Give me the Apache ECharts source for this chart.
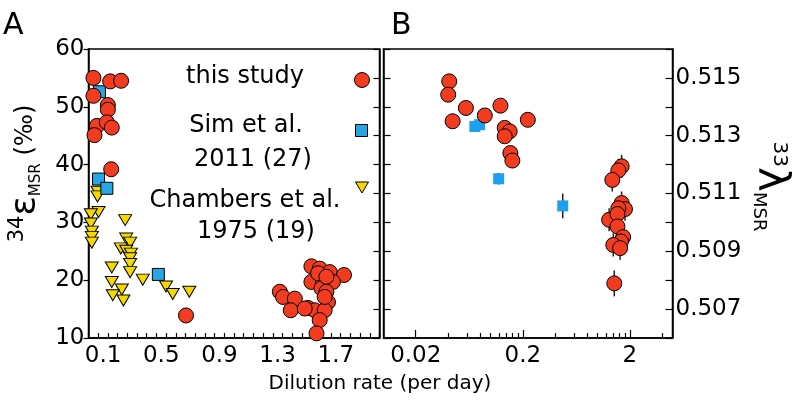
<!DOCTYPE html>
<html><head><meta charset="utf-8">
<script src="https://cdn.jsdelivr.net/npm/echarts@6/dist/echarts.min.js"></script>
<style>html,body{margin:0;padding:0;background:#fff}#c{width:796px;height:406px}</style>
</head><body><div id="c"></div>
<script>
// ---------- Panel A : 34ε_MSR vs dilution rate (linear) ----------
const studyA_x = [0.034,0.149,0.224,0.034,0.133,0.133,0.058,0.126,0.160,0.041,0.156,0.670,
  1.532,1.589,1.658,1.756,1.532,1.612,1.680,1.601,1.635,1.315,1.337,1.418,1.390,1.509,1.555,1.646,1.623,1.589,1.567,1.578,1.635,1.486,1.623];
const studyA_y = [55.0,54.4,54.5,51.9,50.3,49.5,46.7,47.3,46.4,45.1,39.2,13.9,
  22.4,22.0,21.4,20.9,19.7,19.7,19.7,18.6,18.0,18.0,17.1,16.8,14.8,15.2,14.8,16.2,14.8,13.1,10.8,21.2,20.6,15.1,17.1];
const simA_x = [0.075,0.069,0.126,0.480];
const simA_y = [52.6,37.5,35.9,21.0];
const chambersA_x = [0.062,0.062,0.069,0.016,0.016,0.023,0.023,0.023,0.252,0.259,0.286,0.222,0.259,0.291,0.286,0.286,0.286,0.160,0.160,0.229,0.167,0.240,0.373,0.533,0.579,0.693];
const chambersA_y = [35.3,34.5,31.8,31.4,29.8,28.4,27.5,26.5,30.4,27.2,26.5,25.5,25.1,24.6,23.8,22.8,21.4,22.2,19.7,18.4,17.4,16.5,20.1,18.9,17.6,18.0];

// ---------- Panel B : 33λ_MSR vs dilution rate (log) ----------
const studyB_x = [0.0411,0.0402,0.0588,0.0442,0.0883,0.1236,0.2228,0.1355,0.1508,0.1355,0.153,0.1597,
  1.675,1.56,1.37,1.675,1.80,1.56,1.28,1.53,1.53,1.73,1.65,1.40,1.62,1.43];
const studyB_y = [0.51488,0.51442,0.51396,0.51350,0.51370,0.51404,0.51355,0.51327,0.51315,0.51298,0.51240,0.51214,
  0.51194,0.51180,0.51147,0.51067,0.51046,0.51049,0.51009,0.51029,0.50986,0.50949,0.50934,0.50922,0.50911,0.50789];
const studyB_err = [0.0002,0.0002,0.0002,0.0002,0.0002,0.0002,0.0002,0.0002,0.0002,0.0002,0.0002,0.0002,
  0.0004,0.0004,0.0004,0.0004,0.0004,0.0004,0.0004,0.0004,0.0004,0.0004,0.0004,0.0004,0.0004,0.00045];
const simB_x = [0.0713,0.0790,0.119,0.472];
const simB_y = [0.51332,0.51338,0.51151,0.51057];
const simB_err = [0.0001,0.0001,0.0002,0.00043];

// ---------- tick labels ----------
const xLabelsA = [0.1,0.5,0.9,1.3,1.7];
const xLabelsB = [0.02,0.2,2];
const xMinorTicksB = [0.04,0.06,0.08,0.1,0.12,0.14,0.16,0.18,0.4,0.6,0.8,1,1.2,1.4,1.6,1.8,4];
const yLabelsB = [0.507,0.509,0.511,0.513,0.515];

const RED = '#f23b1f', BLUE = '#27a6e6', YEL = '#f4d800';
const FONT = 'DejaVu Sans';
const TRI = 'path://M0,0 L20,0 L10,18 Z';
const zip = (a, b) => a.map((v, i) => [v, b[i]]);
const errData = (x, y, e) => x.map((v, i) => [v, y[i] - e[i], y[i] + e[i]]);

const lbl = {color:'#000', fontFamily: FONT, fontSize: 23};
const line = {show:true, lineStyle:{color:'#000', width:1.5}};

const chart = echarts.init(document.getElementById('c'), null, {renderer:'canvas'});
chart.setOption({
  animation: false,
  backgroundColor: '#fff',
  grid: [
    {left: 88.5, top: 49, width: 291, height: 289, show: true, borderColor: '#000', borderWidth: 1.5},
    {left: 383.5, top: 49, width: 289, height: 289, show: true, borderColor: '#000', borderWidth: 1.5}
  ],
  xAxis: [
    {gridIndex:0, type:'value', min:0, max:2, interval:1/15, position:'bottom',
     axisLine: line, splitLine:{show:false},
     axisTick:{show:true, inside:true, length:5, lineStyle:{color:'#000', width:1.2}},
     axisLabel: Object.assign({customValues: xLabelsA, margin:7, formatter: v => v.toFixed(1)}, lbl)},
    {gridIndex:1, type:'log', logBase:10, min:0.01, max:5, position:'bottom',
     axisLine: line, splitLine:{show:false},
     axisTick:{show:true, inside:true, length:8, customValues: xLabelsB, lineStyle:{color:'#000', width:1.2}},
     axisLabel: Object.assign({customValues: xLabelsB, margin:7, formatter: v => String(v)}, lbl)},
    {gridIndex:1, type:'log', logBase:10, min:0.01, max:5, position:'bottom',
     axisLine:{show:false}, splitLine:{show:false},
     axisTick:{show:true, inside:true, length:5, customValues: xMinorTicksB, lineStyle:{color:'#000', width:1.2}},
     axisLabel:{show:false}}
  ],
  yAxis: [
    {gridIndex:0, type:'value', min:10, max:60, interval:10, position:'left',
     axisLine: line, splitLine:{show:false},
     axisTick:{show:true, inside:false, length:5, lineStyle:{color:'#000', width:1.2}},
     axisLabel: Object.assign({margin:4}, lbl),
     name: '{sup|34}{eps|ε}{sub|MSR}{txt| (‰)}', nameLocation:'middle', nameRotate:90, nameGap:45,
     nameTextStyle:{fontFamily: FONT, color:'#000', padding:[0,0,0,40],
       rich:{sup:{fontSize:21, fontFamily:FONT, verticalAlign:'top', lineHeight:36},
             eps:{fontSize:36, fontFamily:FONT, lineHeight:36},
             sub:{fontSize:15, fontFamily:FONT, verticalAlign:'bottom', lineHeight:36},
             txt:{fontSize:24, fontFamily:FONT, lineHeight:36}}}},
    {gridIndex:0, type:'value', min:10, max:60, interval:5, position:'right',
     axisLine: line, splitLine:{show:false},
     axisTick:{show:true, inside:true, length:6, lineStyle:{color:'#000', width:1.2}},
     axisLabel:{show:false}},
    {gridIndex:1, type:'value', min:0.506, max:0.516, interval:0.001, position:'left',
     axisLine: line, splitLine:{show:false},
     axisTick:{show:true, inside:true, length:7, lineStyle:{color:'#000', width:1.2}},
     axisLabel:{show:false}},
    {gridIndex:1, type:'value', min:0.506, max:0.516, interval:0.001, position:'right',
     axisLine: line, splitLine:{show:false},
     axisTick:{show:true, inside:true, length:7, lineStyle:{color:'#000', width:1.2}},
     axisLabel: Object.assign({customValues: yLabelsB, margin:3, formatter: v => v.toFixed(3)}, lbl),
     name: '{sup|33}{lam|λ}{sub|MSR}', nameLocation:'middle', nameRotate:-90, nameGap:77,
     nameTextStyle:{fontFamily: FONT, color:'#000', padding:[0,14,0,0],
       rich:{sup:{fontSize:20, fontFamily:FONT, verticalAlign:'top', lineHeight:40},
             lam:{fontSize:42, fontFamily:FONT, lineHeight:40},
             sub:{fontSize:18, fontFamily:FONT, verticalAlign:'bottom', lineHeight:40}}}}
  ],
  series: [
    {name:'Chambers et al. 1975 (19)', type:'scatter', xAxisIndex:0, yAxisIndex:0, z:2,
     symbol: TRI, symbolSize:[13,11], data: zip(chambersA_x, chambersA_y),
     itemStyle:{color: YEL, borderColor:'#000', borderWidth:1, opacity:1}},
    {name:'Sim et al. 2011 (27)', type:'scatter', xAxisIndex:0, yAxisIndex:0, z:3,
     symbol:'rect', symbolSize:12, data: zip(simA_x, simA_y),
     itemStyle:{color: BLUE, borderColor:'#000', borderWidth:1, opacity:1}},
    {name:'this study', type:'scatter', xAxisIndex:0, yAxisIndex:0, z:4,
     symbol:'circle', symbolSize:15, data: zip(studyA_x, studyA_y),
     itemStyle:{color: RED, borderColor:'#000', borderWidth:1, opacity:1}},
    {name:'error bars', type:'custom', xAxisIndex:1, yAxisIndex:3, z:1,
     data: errData(studyB_x, studyB_y, studyB_err).concat(errData(simB_x, simB_y, simB_err)),
     encode:{x:0, y:[1,2]},
     renderItem: (params, api) => {
       const a = api.coord([api.value(0), api.value(1)]);
       const b = api.coord([api.value(0), api.value(2)]);
       return {type:'line', shape:{x1:a[0], y1:a[1], x2:b[0], y2:b[1]}, style:{stroke:'#222', lineWidth:1.5}};
     }},
    {name:'Sim et al. 2011 (27) B', type:'scatter', xAxisIndex:1, yAxisIndex:3, z:3,
     symbol:'rect', symbolSize:11, data: zip(simB_x, simB_y),
     itemStyle:{color:'#1f9ff0', opacity:1}},
    {name:'this study B', type:'scatter', xAxisIndex:1, yAxisIndex:3, z:4,
     symbol:'circle', symbolSize:15, data: zip(studyB_x, studyB_y),
     itemStyle:{color: RED, borderColor:'#000', borderWidth:1, opacity:1}}
  ],
  graphic: [
    {type:'text', left:3, top:11, style:{text:'A', fontSize:30, fontFamily:FONT, fill:'#000'}},
    {type:'text', left:391, top:11, style:{text:'B', fontSize:30, fontFamily:FONT, fill:'#000'}},
    {type:'text', x:380, y:384, style:{text:'Dilution rate (per day)', fontSize:20, fontFamily:FONT, fill:'#000', align:'center', verticalAlign:'middle'}},
    {type:'text', x:245, y:77, style:{text:'this study', fontSize:24, fontFamily:FONT, fill:'#000', align:'center', verticalAlign:'middle'}},
    {type:'text', x:246, y:126, style:{text:'Sim et al.', fontSize:24, fontFamily:FONT, fill:'#000', align:'center', verticalAlign:'middle'}},
    {type:'text', x:253, y:160, style:{text:'2011 (27)', fontSize:24, fontFamily:FONT, fill:'#000', align:'center', verticalAlign:'middle'}},
    {type:'text', x:245, y:201, style:{text:'Chambers et al.', fontSize:24, fontFamily:FONT, fill:'#000', align:'center', verticalAlign:'middle'}},
    {type:'text', x:256, y:232, style:{text:'1975 (19)', fontSize:24, fontFamily:FONT, fill:'#000', align:'center', verticalAlign:'middle'}},
    {type:'circle', shape:{cx:362, cy:80, r:7.5}, style:{fill:RED, stroke:'#000', lineWidth:1}},
    {type:'rect', shape:{x:355.5, y:124.5, width:12, height:12}, style:{fill:BLUE, stroke:'#000', lineWidth:1}},
    {type:'polygon', shape:{points:[[355.5,182],[368.5,182],[362,193]]}, style:{fill:YEL, stroke:'#000', lineWidth:1}}
  ]
});
</script></body></html>
